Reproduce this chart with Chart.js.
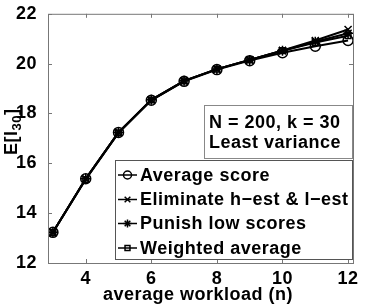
<!DOCTYPE html>
<html>
<head>
<meta charset="utf-8">
<script src="https://cdn.jsdelivr.net/npm/chart.js@4/dist/chart.umd.min.js"></script>
<style>
  html, body { margin: 0; padding: 0; background: #fff; }
  #wrap { width: 378px; height: 306px; }
</style>
</head>
<body>
<div id="wrap"><canvas id="c" width="378" height="306"></canvas></div>
<script>
// valores
const workload = [3, 4, 5, 6, 7, 8, 9, 10, 11, 12];
const avgScore = [13.23, 15.38, 17.24, 18.53, 19.29, 19.76, 20.12, 20.44, 20.70, 20.93];
const eliminate = [13.23, 15.38, 17.24, 18.55, 19.31, 19.78, 20.15, 20.53, 20.93, 21.37];
const punishLow = [13.23, 15.38, 17.24, 18.55, 19.31, 19.78, 20.15, 20.52, 20.88, 21.22];
const weighted = [13.23, 15.35, 17.22, 18.54, 19.31, 19.78, 20.15, 20.52, 20.85, 21.12];
const seriesNames = ['Average score', 'Eliminate h\u2212est & l\u2212est', 'Punish low scores', 'Weighted average'];
const markers = ['circle', 'crossRot', 'star', 'rect'];
const xTicks = [4, 6, 8, 10, 12];
const yTicks = [12, 14, 16, 18, 20, 22];

const FONT = '"Liberation Sans", Arial, sans-serif';
const BOLD = 'bold 18px ' + FONT;

const toPts = arr => arr.map((v, i) => ({ x: workload[i], y: v }));

const datasets = [avgScore, eliminate, punishLow, weighted].map((vals, i) => ({
    label: seriesNames[i],
    data: toPts(vals),
    borderColor: '#000',
    backgroundColor: 'rgba(0,0,0,0)',
    borderWidth: 2,
    pointStyle: markers[i],
    pointRadius: i === 3 ? 4 : 5,
    pointBorderColor: '#000',
    pointBorderWidth: 1.5,
    pointBackgroundColor: 'rgba(0,0,0,0)',
    tension: 0
}));

// espaciado de letras un poco más ancho, como en la figura original
const letterSpace = {
    id: 'letterSpace',
    beforeDraw(chart) {
        chart.ctx.letterSpacing = '0.5px';
    }
};

// caja de ejes estilo MATLAB, leyenda y textos extra
const matlabBox = {
    id: 'matlabBox',
    afterDraw(chart) {
        const { ctx, chartArea: a, scales } = chart;
        const xs = scales.x, ys = scales.y;
        ctx.save();
        ctx.letterSpacing = '0.5px';
        ctx.strokeStyle = '#777';
        ctx.lineWidth = 1;
        ctx.strokeRect(a.left + 0.5, a.top + 0.5, a.right - a.left, a.bottom - a.top);
        ctx.beginPath();
        xTicks.forEach(t => {
            const px = Math.round(xs.getPixelForValue(t)) + 0.5;
            ctx.moveTo(px, a.bottom); ctx.lineTo(px, a.bottom - 4);
            ctx.moveTo(px, a.top); ctx.lineTo(px, a.top + 4);
        });
        yTicks.forEach(t => {
            const py = Math.round(ys.getPixelForValue(t)) + 0.5;
            ctx.moveTo(a.left, py); ctx.lineTo(a.left + 4, py);
            ctx.moveTo(a.right, py); ctx.lineTo(a.right - 4, py);
        });
        ctx.stroke();

        // cuadro de texto
        ctx.fillStyle = '#fff';
        ctx.fillRect(204, 105, 148, 53);
        ctx.strokeStyle = '#888';
        ctx.strokeRect(204.5, 105.5, 148, 53);
        ctx.fillStyle = '#000';
        ctx.font = BOLD;
        ctx.textBaseline = 'middle';
        ctx.textAlign = 'left';
        ctx.fillText('N = 200, k = 30', 209, 123);
        ctx.fillText('Least variance', 209, 143);

        // leyenda
        ctx.fillStyle = '#fff';
        ctx.fillRect(115, 160, 237, 99);
        ctx.strokeStyle = '#555';
        ctx.strokeRect(115.5, 160.5, 237, 99);
        const rows = [175, 199.5, 223.5, 248];
        chart.data.datasets.forEach((ds, i) => {
            const y = rows[i];
            ctx.strokeStyle = '#000';
            ctx.lineWidth = 1.5;
            ctx.beginPath();
            ctx.moveTo(118, y); ctx.lineTo(137, y);
            ctx.stroke();
            ctx.fillStyle = 'rgba(0,0,0,0)';
            Chart.helpers.drawPoint(ctx, {
                pointStyle: ds.pointStyle,
                radius: i === 3 ? 3.5 : 4,
                borderWidth: 1.2,
                rotation: 0
            }, 127.5, y);
            ctx.fillStyle = '#000';
            ctx.font = BOLD;
            ctx.fillText(ds.label, 140, y + 1);
        });

        // título del eje x
        ctx.textAlign = 'center';
        ctx.textBaseline = 'alphabetic';
        ctx.fillText('average workload (n)', 198, 300);

        // etiqueta del eje y con subíndice
        ctx.save();
        ctx.translate(17, 131);
        ctx.rotate(-Math.PI / 2);
        ctx.textAlign = 'left';
        ctx.textBaseline = 'alphabetic';
        ctx.font = BOLD;
        let x0 = -24;
        ctx.fillText('E[l', x0, 0);
        x0 += ctx.measureText('E[l').width;
        ctx.font = 'bold 13px ' + FONT;
        ctx.fillText('30', x0, 4);
        x0 += ctx.measureText('30').width;
        ctx.font = BOLD;
        ctx.fillText(']', x0, 0);
        ctx.restore();
        ctx.restore();
    }
};

new Chart(document.getElementById('c'), {
    type: 'line',
    data: { datasets },
    options: {
        responsive: false,
        animation: false,
        layout: { padding: { top: 10, right: 25, left: 0, bottom: 0 } },
        plugins: { legend: { display: false }, tooltip: { enabled: false } },
        scales: {
            x: {
                type: 'linear',
                min: 2.85,
                max: 12.15,
                afterBuildTicks: s => { s.ticks = xTicks.map(v => ({ value: v })); },
                afterFit: s => { s.height = 43; },
                grid: { display: false },
                border: { display: false },
                ticks: { color: '#000', font: { family: FONT, size: 18, weight: 'bold' }, padding: -3, maxRotation: 0 }
            },
            y: {
                min: 12,
                max: 22,
                afterBuildTicks: s => { s.ticks = yTicks.map(v => ({ value: v })); },
                afterFit: s => { s.width = 48; },
                grid: { display: false },
                border: { display: false },
                ticks: { color: '#000', font: { family: FONT, size: 18, weight: 'bold' }, padding: 3 }
            }
        }
    },
    plugins: [letterSpace, matlabBox]
});
</script>
</body>
</html>
